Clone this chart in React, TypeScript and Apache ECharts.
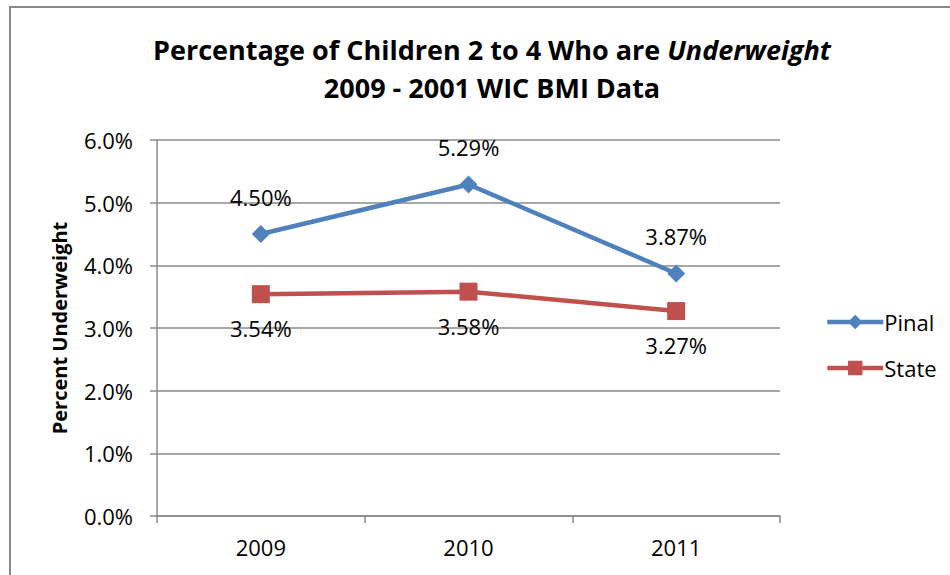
import React, { useEffect, useRef } from "react";
import * as echarts from "echarts";

const categories = ["2009", "2010", "2011"];
const pinal = [4.5, 5.29, 3.87];
const state = [3.54, 3.58, 3.27];
const yTicks = [0, 1, 2, 3, 4, 5, 6];

const FONT = "'Open Sans', 'Noto Sans', sans-serif";

export default function App() {
  const ref = useRef<HTMLDivElement>(null);
  useEffect(() => {
    const chart = echarts.init(ref.current!, null, { renderer: "svg" });
    chart.setOption({
      animation: false,
      backgroundColor: "#fff",
      textStyle: { fontFamily: FONT },
      title: {
        text: "{a|Percentage of Children 2 to 4 Who are }{b|Underweight}\n{a|2009 - 2001 WIC BMI Data}",
        left: 487,
        textAlign: "center",
        top: 25,
        textStyle: {
          rich: {
            a: { fontSize: 27, fontWeight: "bold", color: "#000", fontFamily: FONT, lineHeight: 38 },
            b: { fontSize: 27, fontWeight: "bold", fontStyle: "italic", color: "#000", fontFamily: FONT, lineHeight: 38 },
          },
        },
      },
      graphic: [
        {
          type: "rect",
          shape: { x: 10, y: 7, width: 980, height: 620 },
          style: { fill: "none", stroke: "#8a8a8a", lineWidth: 2 },
          silent: true,
        },
      ],
      legend: {
        orient: "vertical",
        left: 820,
        top: 306,
        itemGap: 24,
        itemWidth: 56,
        itemHeight: 18,
        lineStyle: { width: 4.5 },
        textStyle: { fontSize: 22, color: "#000", fontFamily: FONT, padding: [0, 0, 0, -4] },
        data: ["Pinal", "State"],
      },
      grid: { left: 157, right: 170, top: 140, bottom: 59 },
      xAxis: {
        type: "category",
        data: categories,
        boundaryGap: true,
        axisLine: { lineStyle: { color: "#8a8a8a", width: 1.5 } },
        axisTick: { show: true, length: 7, lineStyle: { color: "#8a8a8a", width: 1.5 } },
        axisLabel: { fontSize: 22, color: "#000", margin: 20, fontFamily: FONT },
      },
      yAxis: {
        type: "value",
        min: 0,
        max: 6,
        interval: 1,
        name: "Percent Underweight",
        nameLocation: "middle",
        nameGap: 88,
        nameTextStyle: { fontSize: 20, fontWeight: "bold", color: "#000", fontFamily: FONT },
        axisLine: { show: true, lineStyle: { color: "#8a8a8a", width: 1.5 } },
        axisTick: { show: true, length: 7, lineStyle: { color: "#8a8a8a", width: 1.5 } },
        splitLine: { show: true, lineStyle: { color: "#8a8a8a", width: 1.5 } },
        axisLabel: {
          fontSize: 22,
          color: "#000",
          margin: 24,
          fontFamily: FONT,
          formatter: (v: number) => (yTicks.includes(v) ? v.toFixed(1) + "%" : ""),
        },
      },
      series: [
        {
          name: "Pinal",
          type: "line",
          data: pinal,
          symbol: "diamond",
          symbolSize: 18,
          lineStyle: { color: "#4F81BD", width: 4.5 },
          itemStyle: { color: "#4F81BD" },
          label: {
            show: true,
            position: "top",
            distance: 17,
            fontSize: 22,
            color: "#000",
            fontFamily: FONT,
            formatter: (p: any) => p.value.toFixed(2) + "%",
          },
        },
        {
          name: "State",
          type: "line",
          data: state,
          symbol: "rect",
          symbolSize: 18,
          lineStyle: { color: "#C0504D", width: 4.5 },
          itemStyle: { color: "#C0504D" },
          label: {
            show: true,
            position: "bottom",
            distance: 14,
            fontSize: 22,
            color: "#000",
            fontFamily: FONT,
            formatter: (p: any) => p.value.toFixed(2) + "%",
          },
        },
      ],
    });
    return () => chart.dispose();
  }, []);
  return (
    <div
      ref={ref}
      style={{ position: "absolute", left: 0, top: 0, width: 950, height: 575 }}
    />
  );
}
